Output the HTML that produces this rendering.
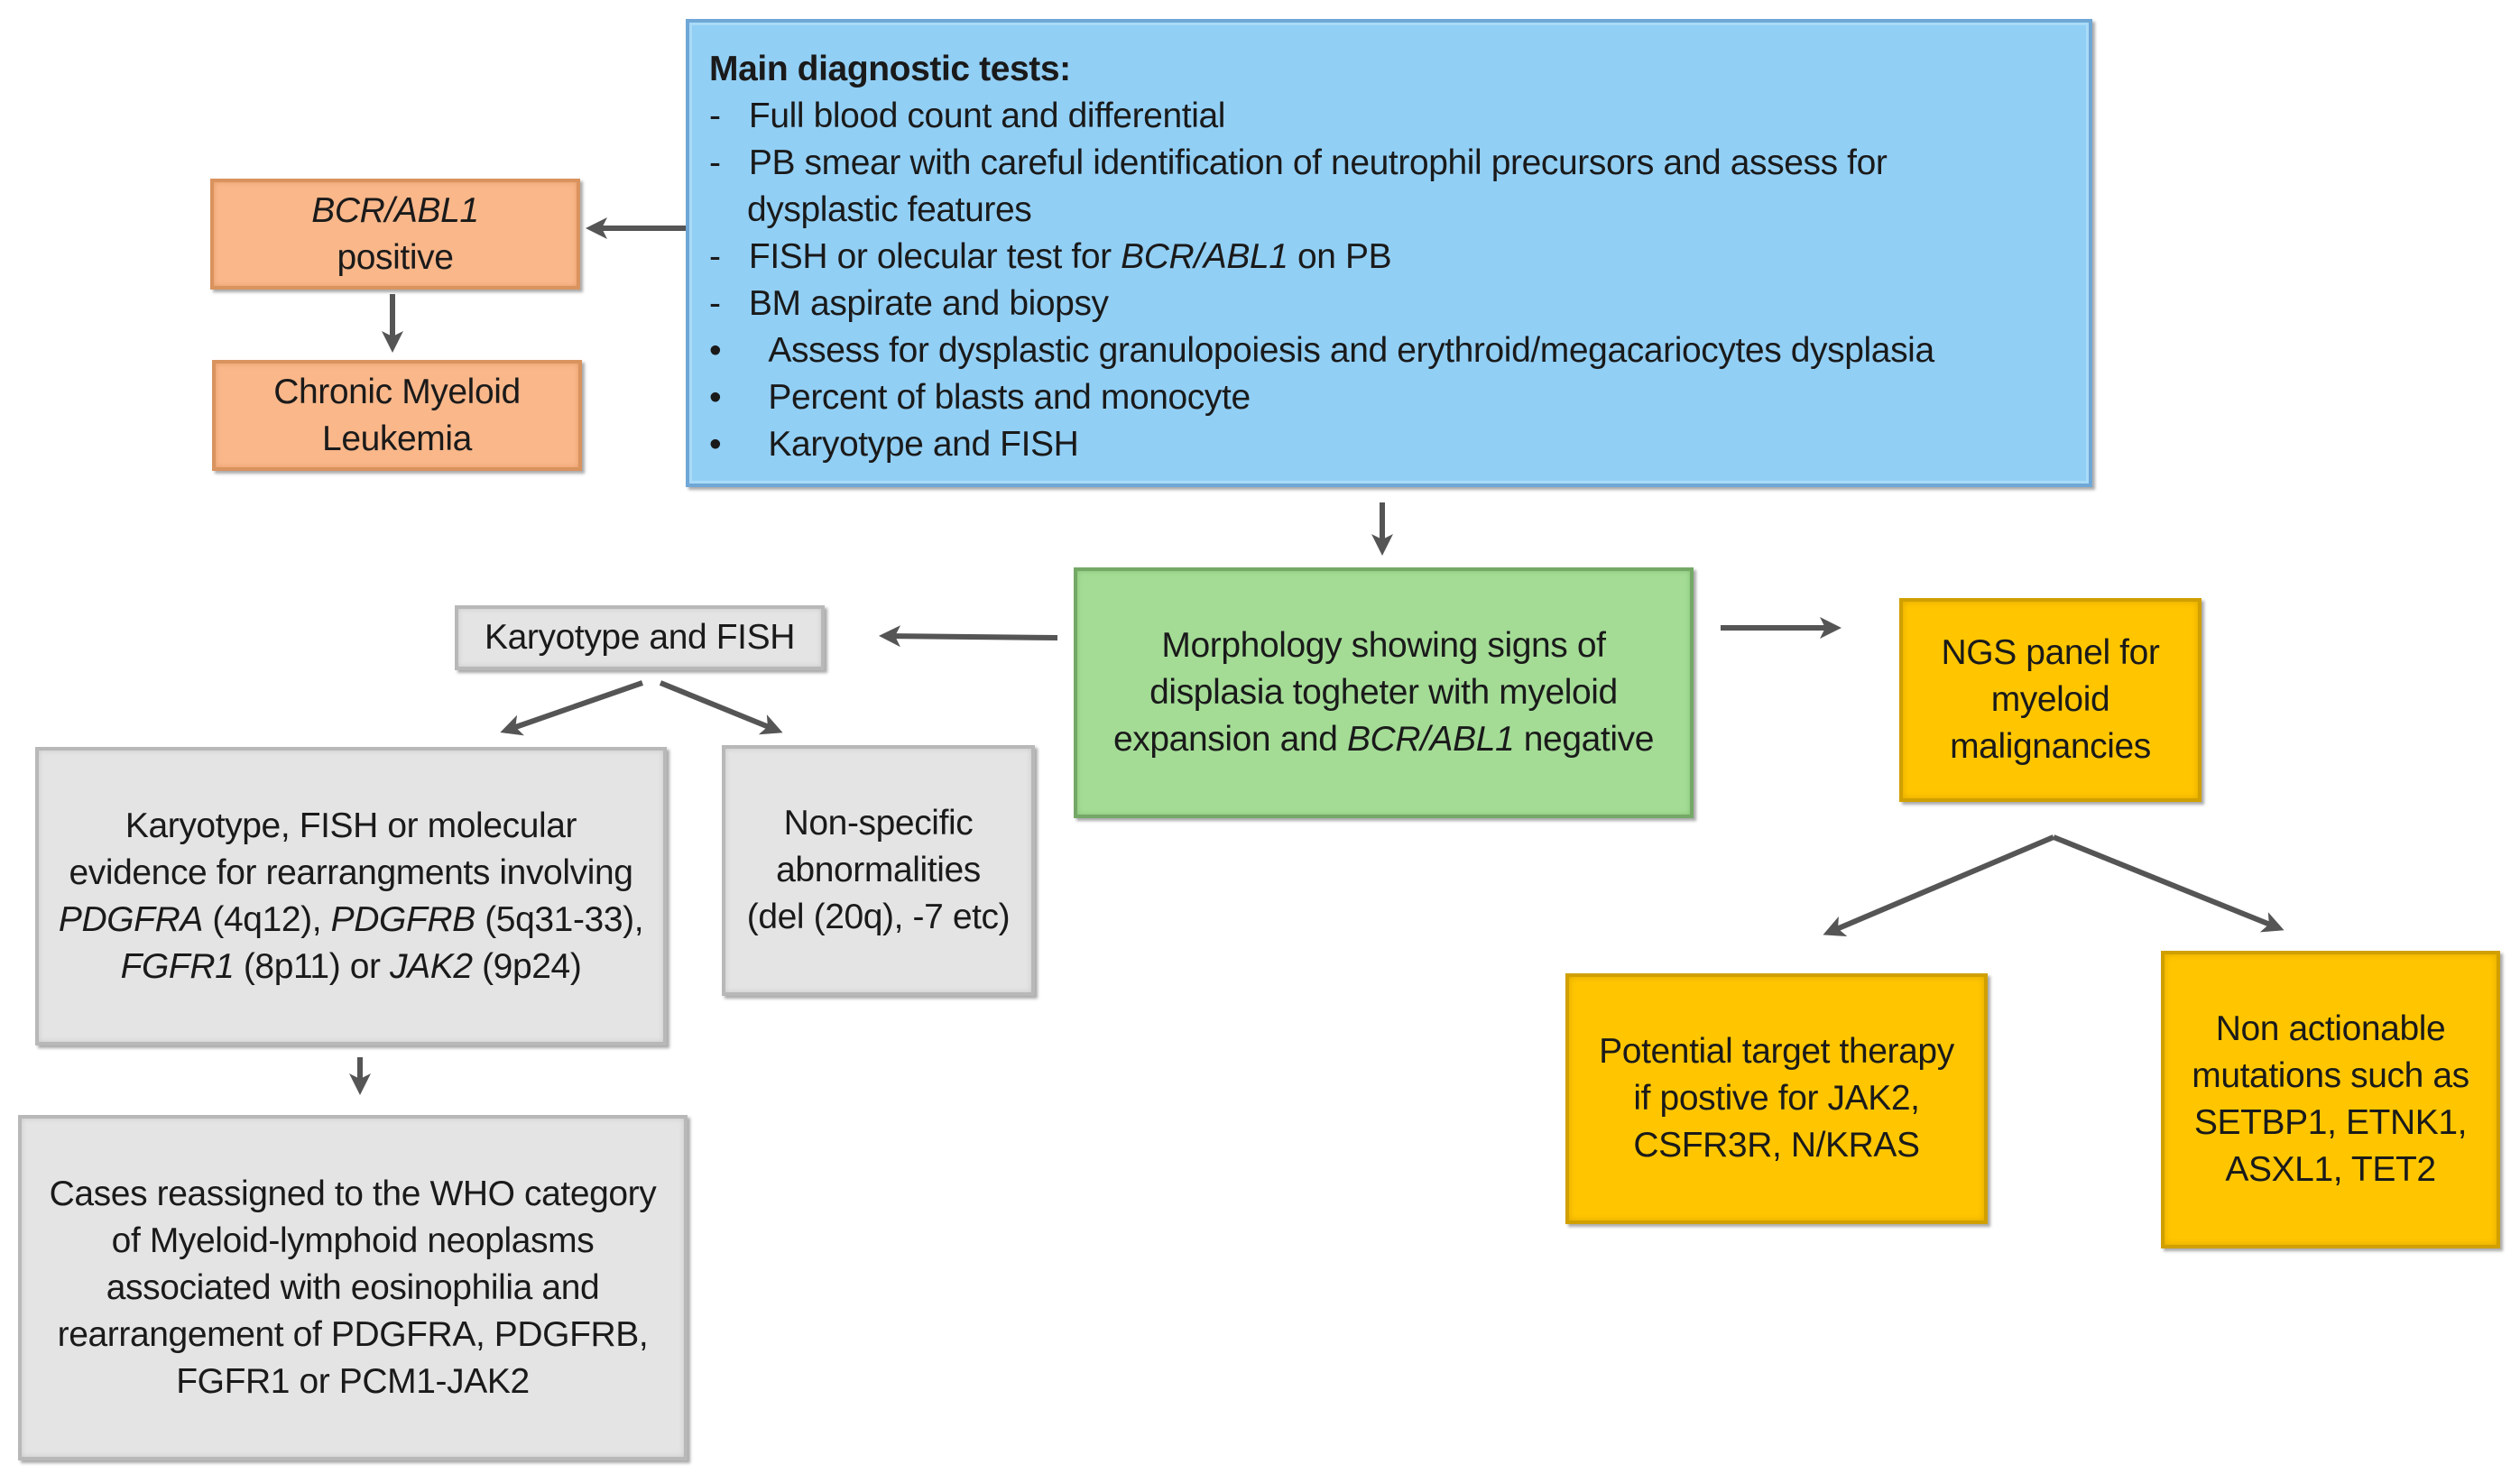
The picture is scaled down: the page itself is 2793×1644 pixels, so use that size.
<!DOCTYPE html>
<html><head><meta charset="utf-8"><style>
body{margin:0;width:2793px;height:1644px;background:#fff;position:relative;overflow:hidden;font-family:"Liberation Sans",sans-serif;color:#1a1a1a}
.b{position:absolute;box-sizing:border-box;display:flex;flex-direction:column;justify-content:center;align-items:center;text-align:center;font-size:39px;line-height:52px;letter-spacing:-0.4px}
.blue{background:#92cff5;border:4px solid #6fa7d6;box-shadow:inset 0 0 0 3px #a9dbf8,3px 3px 3px #aaa}
.or{background:#f9b78a;border:4px solid #d9935f;box-shadow:inset 0 0 6px #e79c68,3px 3px 3px #aaa}
.gr{background:#a4dc96;border:4px solid #74a866;box-shadow:inset 0 0 6px #86c276,3px 3px 3px #aaa}
.ye{background:#ffc600;border:4px solid #d09f00;box-shadow:inset 0 0 8px #e0a800,3px 3px 3px #aaa}
.gy{background:#e4e4e4;border:4px solid #b8b8b8;box-shadow:inset 0 0 6px #c8c8c8,3px 3px 3px #aaa}
i{font-style:italic}
.l{position:absolute;left:22px;white-space:nowrap;font-size:39px;letter-spacing:-0.4px}
</style></head><body>
<div class="b blue" style="left:760px;top:21px;width:1559px;height:519px;display:block;text-align:left">
<div class="l" style="top:26px;font-weight:bold">Main diagnostic tests:</div>
<div class="l" style="top:78px">-&nbsp;&nbsp;&nbsp;Full blood count and differential</div>
<div class="l" style="top:130px">-&nbsp;&nbsp;&nbsp;PB smear with careful identification of neutrophil precursors and assess for</div>
<div class="l" style="top:182px;left:64px">dysplastic features</div>
<div class="l" style="top:234px">-&nbsp;&nbsp;&nbsp;FISH or olecular test for <i>BCR/ABL1</i> on PB</div>
<div class="l" style="top:286px">-&nbsp;&nbsp;&nbsp;BM aspirate and biopsy</div>
<div class="l" style="top:338px">•&nbsp;&nbsp;&nbsp;&nbsp;&nbsp;Assess for dysplastic granulopoiesis and erythroid/megacariocytes dysplasia</div>
<div class="l" style="top:390px">•&nbsp;&nbsp;&nbsp;&nbsp;&nbsp;Percent of blasts and monocyte</div>
<div class="l" style="top:442px">•&nbsp;&nbsp;&nbsp;&nbsp;&nbsp;Karyotype and FISH</div>
</div>
<div class="b or" style="left:233px;top:198px;width:410px;height:123px"><div><i>BCR/ABL1</i><br>positive</div></div>
<div class="b or" style="left:235px;top:399px;width:410px;height:123px"><div>Chronic Myeloid<br>Leukemia</div></div>
<div class="b gr" style="left:1190px;top:629px;width:687px;height:278px"><div>Morphology showing signs of<br>displasia togheter with myeloid<br>expansion and <i>BCR/ABL1</i> negative</div></div>
<div class="b gy" style="left:504px;top:671px;width:410px;height:72px"><div>Karyotype and FISH</div></div>
<div class="b ye" style="left:2105px;top:663px;width:335px;height:226px"><div>NGS panel for<br>myeloid<br>malignancies</div></div>
<div class="b gy" style="left:39px;top:828px;width:700px;height:331px"><div>Karyotype, FISH or molecular<br>evidence for rearrangments involving<br><i>PDGFRA</i> (4q12), <i>PDGFRB</i> (5q31-33),<br><i>FGFR1</i> (8p11) or <i>JAK2</i> (9p24)</div></div>
<div class="b gy" style="left:800px;top:826px;width:347px;height:278px"><div>Non-specific<br>abnormalities<br>(del (20q), -7 etc)</div></div>
<div class="b gy" style="left:20px;top:1236px;width:742px;height:383px"><div>Cases reassigned to the WHO category<br>of Myeloid-lymphoid neoplasms<br>associated with eosinophilia and<br>rearrangement of PDGFRA, PDGFRB,<br>FGFR1 or PCM1-JAK2</div></div>
<div class="b ye" style="left:1735px;top:1079px;width:468px;height:278px"><div>Potential target therapy<br>if postive for JAK2,<br>CSFR3R, N/KRAS</div></div>
<div class="b ye" style="left:2395px;top:1054px;width:376px;height:330px"><div>Non actionable<br>mutations such as<br>SETBP1, ETNK1,<br>ASXL1, TET2</div></div>
<svg width="2793" height="1644" style="position:absolute;left:0;top:0">
<defs><marker id="a" markerWidth="4" markerHeight="4" refX="3" refY="2" orient="auto" markerUnits="strokeWidth"><path d="M0,0 L4,2 L0,4 L1,2 z" fill="#555"/></marker></defs>
<g stroke="#555" stroke-width="6" fill="none" marker-end="url(#a)">
<line x1="760" y1="253" x2="655" y2="253"/>
<line x1="435" y1="326" x2="435" y2="385"/>
<line x1="1532" y1="557" x2="1532" y2="610"/>
<line x1="1172" y1="707" x2="980" y2="705"/>
<line x1="1907" y1="696" x2="2035" y2="696"/>
<line x1="712" y1="757" x2="560" y2="810"/>
<line x1="732" y1="757" x2="862" y2="810"/>
<line x1="399" y1="1172" x2="399" y2="1208"/>
<line x1="2276" y1="928" x2="2026" y2="1034"/>
<line x1="2276" y1="928" x2="2526" y2="1029"/>
</g></svg>
</body></html>
